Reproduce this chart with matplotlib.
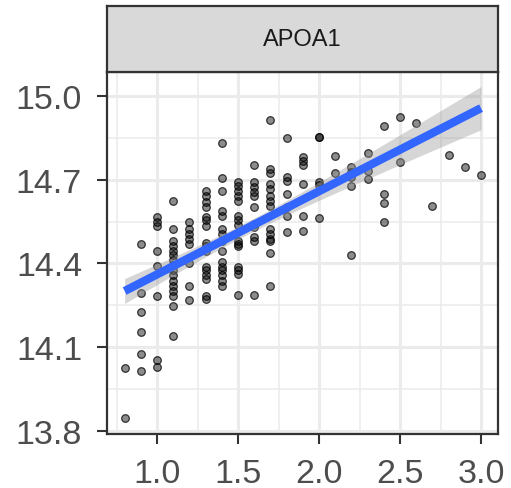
import numpy as np
import matplotlib
matplotlib.use("Agg")
import matplotlib.pyplot as plt
from matplotlib.ticker import FixedLocator

plt.rcParams['font.family'] = ['Liberation Sans', 'DejaVu Sans']

# panel label
panel_title = "APOA1"

# scatter data, grouped by x column
x_vals = (
    [0.8] * 2 + [0.9] * 6 + [1.0] * 8 + [1.1] * 16 + [1.2] * 8 + [1.3] * 16
    + [1.4] * 15 + [1.5] * 15 + [1.6] * 11 + [1.7] * 14 + [1.8] * 7
    + [1.9] * 6 + [2.0] * 5 + [2.1] * 2 + [2.2] * 5 + [2.3] * 3 + [2.4] * 4
    + [2.5] * 2 + [2.6] + [2.7] + [2.8] + [2.9] + [3.0]
)
y_vals = [
    14.025, 13.846,
    14.471, 14.293, 14.225, 14.154, 14.075, 14.014,
    14.568, 14.550, 14.536, 14.443, 14.390, 14.282, 14.054, 14.029,
    14.625, 14.525, 14.482, 14.464, 14.446, 14.429, 14.411, 14.393,
    14.375, 14.357, 14.336, 14.318, 14.300, 14.282, 14.246, 14.139,
    14.550, 14.525, 14.507, 14.489, 14.471, 14.400, 14.321, 14.268,
    14.661, 14.643, 14.621, 14.604, 14.568, 14.554, 14.536, 14.475,
    14.461, 14.443, 14.389, 14.375, 14.357, 14.343, 14.282, 14.271,
    14.832, 14.707, 14.661, 14.589, 14.571, 14.525, 14.507, 14.479,
    14.443, 14.407, 14.389, 14.375, 14.357, 14.339, 14.321,
    14.693, 14.679, 14.661, 14.643, 14.625, 14.571, 14.554, 14.539,
    14.482, 14.471, 14.461, 14.389, 14.375, 14.361, 14.286,
    14.754, 14.693, 14.675, 14.657, 14.643, 14.604, 14.543, 14.532,
    14.496, 14.482, 14.286,
    14.914, 14.739, 14.725, 14.686, 14.668, 14.643, 14.625, 14.607,
    14.525, 14.507, 14.489, 14.479, 14.436, 14.321,
    14.850, 14.711, 14.696, 14.650, 14.604, 14.571, 14.514,
    14.782, 14.768, 14.754, 14.686, 14.571, 14.518,
    14.854, 14.854, 14.693, 14.682, 14.564,
    14.786, 14.725,
    14.746, 14.729, 14.711, 14.679, 14.429,
    14.796, 14.732, 14.704,
    14.893, 14.650, 14.618, 14.550,
    14.925, 14.764,
    14.904,
    14.607,
    14.789,
    14.746,
    14.718,
]

x_ticks = [1.0, 1.5, 2.0, 2.5, 3.0]
y_ticks = [13.8, 14.1, 14.4, 14.7, 15.0]

x = np.array(x_vals)
y = np.array(y_vals)

# linear fit + 95% confidence band (like geom_smooth(method="lm"))
slope, intercept = np.polyfit(x, y, 1)
xs = np.linspace(x.min(), x.max(), 100)
fit = intercept + slope * xs
n = len(x)
resid = y - (intercept + slope * x)
s = np.sqrt(np.sum(resid ** 2) / (n - 2))
se = s * np.sqrt(1 / n + (xs - x.mean()) ** 2 / np.sum((x - x.mean()) ** 2))
t_crit = 1.973

fig = plt.figure(figsize=(5.11, 4.89), dpi=100)
ax = fig.add_axes([0.2094, 0.1104, 0.7652, 0.7403])

ax.scatter(x, y, s=30, facecolor=(0, 0, 0, 0.45), edgecolor=(0, 0, 0, 0.75),
           linewidth=0.9, zorder=3)
ax.fill_between(xs, fit - t_crit * se, fit + t_crit * se, color="#999999",
                alpha=0.4, linewidth=0, zorder=4)
ax.plot(xs, fit, color="#3366FF", linewidth=6, solid_capstyle="butt", zorder=5)

ax.set_xlim(0.691, 3.105)
ax.set_ylim(13.789, 15.086)
ax.set_xticks(x_ticks)
ax.set_yticks(y_ticks)
ax.set_xticklabels([f"{v:.1f}" for v in x_ticks])
ax.set_yticklabels([f"{v:.1f}" for v in y_ticks])
ax.xaxis.set_minor_locator(FixedLocator([0.75, 1.25, 1.75, 2.25, 2.75]))
ax.yaxis.set_minor_locator(FixedLocator([13.95, 14.25, 14.55, 14.85]))

ax.grid(which="major", color="#EBEBEB", linewidth=2.2, zorder=0)
ax.grid(which="minor", color="#EBEBEB", linewidth=1.1, zorder=0)
ax.set_axisbelow(True)

ax.tick_params(which="major", length=7, width=1.5, color="#333333",
               labelsize=24.5, labelcolor="#4D4D4D")
ax.tick_params(axis="y", which="major", pad=11)
ax.tick_params(axis="x", which="major", pad=10)
ax.tick_params(which="minor", length=0)
for sp in ax.spines.values():
    sp.set_color("#333333")
    sp.set_linewidth(1.6)

# facet strip
strip = fig.add_axes([0.2094, 0.8507, 0.7652, 0.135])
strip.set_facecolor("#D9D9D9")
strip.set_xticks([])
strip.set_yticks([])
for sp in strip.spines.values():
    sp.set_color("#333333")
    sp.set_linewidth(1.6)
strip.text(0.5, 0.5, panel_title, ha="center", va="center", fontsize=17,
           color="#1A1A1A", transform=strip.transAxes)

fig.savefig("out.png", dpi=100)
